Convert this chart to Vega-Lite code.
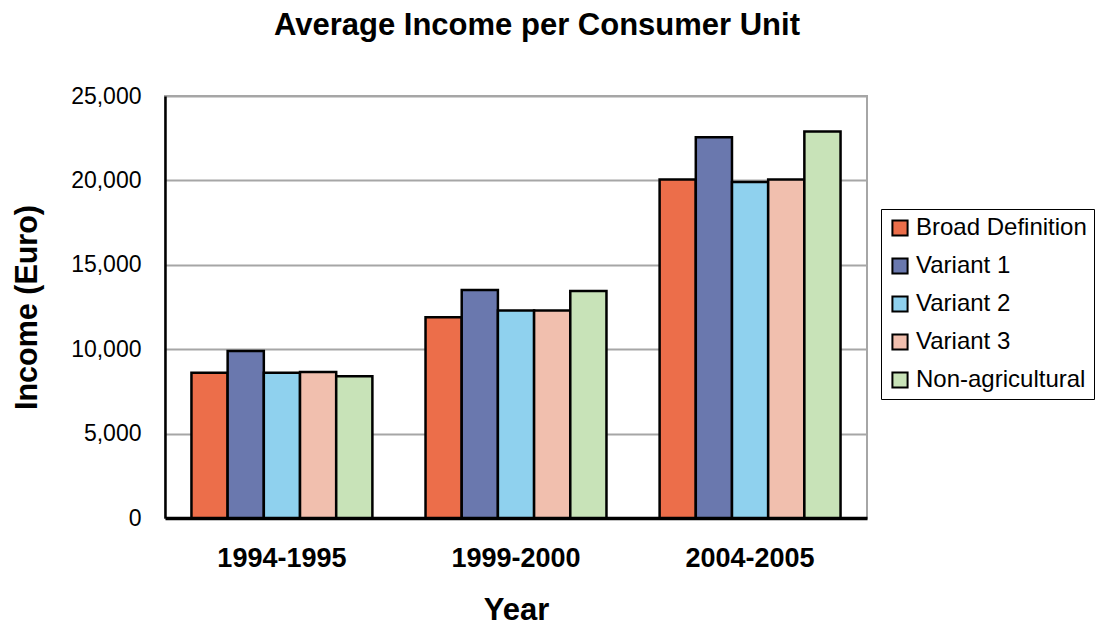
{
  "$schema": "https://vega.github.io/schema/vega-lite/v6.json",
  "width": 702,
  "height": 422,
  "autosize": {"type": "none"},
  "padding": {"left": 165, "top": 96, "right": 232, "bottom": 107},
  "background": "white",
  "title": {
    "text": "Average Income per Consumer Unit",
    "font": "Liberation Sans",
    "fontSize": 31,
    "fontWeight": "bold",
    "color": "black",
    "anchor": "middle",
    "frame": "group",
    "dx": 21,
    "offset": 43
  },
  "data": {
    "values": [
      {"year": "1994-1995", "series": "Broad Definition", "income": 8600},
      {"year": "1994-1995", "series": "Variant 1", "income": 9900},
      {"year": "1994-1995", "series": "Variant 2", "income": 8600},
      {"year": "1994-1995", "series": "Variant 3", "income": 8650},
      {"year": "1994-1995", "series": "Non-agricultural", "income": 8400},
      {"year": "1999-2000", "series": "Broad Definition", "income": 11900},
      {"year": "1999-2000", "series": "Variant 1", "income": 13500},
      {"year": "1999-2000", "series": "Variant 2", "income": 12300},
      {"year": "1999-2000", "series": "Variant 3", "income": 12300},
      {"year": "1999-2000", "series": "Non-agricultural", "income": 13450},
      {"year": "2004-2005", "series": "Broad Definition", "income": 20050},
      {"year": "2004-2005", "series": "Variant 1", "income": 22550},
      {"year": "2004-2005", "series": "Variant 2", "income": 19900},
      {"year": "2004-2005", "series": "Variant 3", "income": 20050},
      {"year": "2004-2005", "series": "Non-agricultural", "income": 22900}
    ]
  },
  "config": {
    "view": {"stroke": "#a6a6a6", "strokeWidth": 2},
    "font": "Liberation Sans",
    "legend": {
      "strokeColor": "black",
      "fillColor": "white",
      "padding": 7
    }
  },
  "mark": {"type": "bar", "stroke": "black", "strokeWidth": 2.5},
  "encoding": {
    "x": {
      "field": "year",
      "type": "nominal",
      "sort": null,
      "scale": {"paddingInner": 0.227, "paddingOuter": 0.113},
      "axis": {
        "title": "Year",
        "titleFont": "Liberation Sans",
        "titleFontSize": 31,
        "titleFontWeight": "bold",
        "titleColor": "black",
        "titlePadding": 24,
        "labelFont": "Liberation Sans",
        "labelFontSize": 27,
        "labelFontWeight": "bold",
        "labelColor": "black",
        "labelAngle": 0,
        "labelPadding": 27,
        "ticks": false,
        "domainColor": "black",
        "domainWidth": 3.5
      }
    },
    "xOffset": {
      "field": "series",
      "type": "nominal",
      "sort": ["Broad Definition", "Variant 1", "Variant 2", "Variant 3", "Non-agricultural"],
      "scale": {"paddingInner": 0, "paddingOuter": 0}
    },
    "y": {
      "field": "income",
      "type": "quantitative",
      "scale": {"domain": [0, 25000], "nice": false},
      "axis": {
        "title": "Income (Euro)",
        "titleFont": "Liberation Sans",
        "titleFontSize": 30.5,
        "titleFontWeight": "bold",
        "titleColor": "black",
        "titlePadding": 28,
        "labelFont": "Liberation Sans",
        "labelFontSize": 23,
        "labelColor": "black",
        "labelPadding": 24,
        "values": [0, 5000, 10000, 15000, 20000, 25000],
        "format": ",d",
        "ticks": false,
        "domainColor": "black",
        "domainWidth": 2.5,
        "grid": true,
        "gridColor": "#a6a6a6",
        "gridWidth": 2
      }
    },
    "color": {
      "field": "series",
      "type": "nominal",
      "sort": ["Broad Definition", "Variant 1", "Variant 2", "Variant 3", "Non-agricultural"],
      "scale": {
        "domain": ["Broad Definition", "Variant 1", "Variant 2", "Variant 3", "Non-agricultural"],
        "range": ["#ec6e4a", "#6a78ae", "#8fd1ee", "#f1bfae", "#c8e3b8"]
      },
      "legend": {
        "title": null,
        "orient": "none",
        "legendX": 716,
        "legendY": 113,
        "symbolType": "square",
        "symbolSize": 230,
        "symbolStrokeColor": "black",
        "symbolStrokeWidth": 2,
        "symbolOpacity": 1,
        "labelFont": "Liberation Sans",
        "labelFontSize": 24,
        "labelColor": "black",
        "labelOffset": 4,
        "labelLimit": 400,
        "rowPadding": 14
      }
    }
  }
}
